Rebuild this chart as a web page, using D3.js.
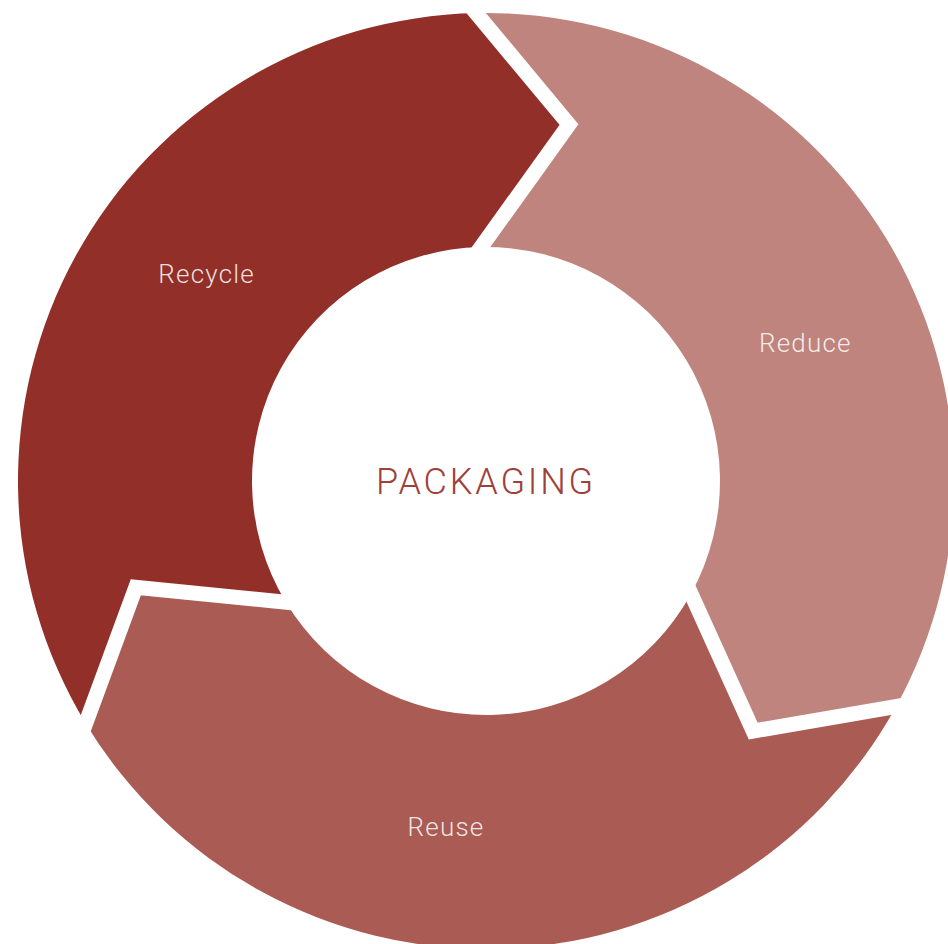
<!DOCTYPE html>
<html>
<head>
<meta charset="utf-8">
<script src="https://cdn.jsdelivr.net/npm/d3@7"></script>
<style>
  html, body { margin: 0; padding: 0; background: #fff; overflow: hidden; }
</style>
</head>
<body>
<div id="chart"></div>
<script>
// cycle data
const labels = ["Reduce", "Reuse", "Recycle"];
const values = [1, 1, 1];
const colors = ["#bf847d", "#a95b54", "#922f29"];
const centerLabel = "PACKAGING";

const width = 948;
const height = 944;
const cx = 486;
const cy = 481;
const outerR = 468;
const innerR = 234;
const tipR = 366;
const gap = 15;
const rad = (deg) => (deg * Math.PI) / 180;
const startAngle = rad(-1.2);
const tipAngle = rad(14.3);
const labelR = 348;
const labelShift = rad(7.8);

const svg = d3
  .select("#chart")
  .append("svg")
  .attr("width", width)
  .attr("height", height);

const pie = d3
  .pie()
  .sort(null)
  .startAngle(startAngle)
  .endAngle(startAngle + 2 * Math.PI);

const arcs = pie(values);

// angle 0 at twelve o'clock, clockwise
const pt = (a, r) => [cx + r * Math.sin(a), cy - r * Math.cos(a)];

function segmentPath(d) {
  const p = d3.path();
  p.moveTo(...pt(d.startAngle, outerR));
  p.arc(cx, cy, outerR, d.startAngle - Math.PI / 2, d.endAngle - Math.PI / 2);
  p.lineTo(...pt(d.endAngle + tipAngle, tipR));
  p.lineTo(...pt(d.endAngle, innerR));
  p.arc(cx, cy, innerR, d.endAngle - Math.PI / 2, d.startAngle - Math.PI / 2, true);
  p.lineTo(...pt(d.startAngle + tipAngle, tipR));
  p.closePath();
  return p.toString();
}

svg
  .selectAll("path.segment")
  .data(arcs)
  .enter()
  .append("path")
  .attr("class", "segment")
  .attr("d", segmentPath)
  .attr("fill", (d, i) => colors[i]);

// white chevron gaps between segments
function gapLine(d) {
  const o = pt(d.endAngle, outerR);
  const t = pt(d.endAngle + tipAngle, tipR);
  const n = pt(d.endAngle, innerR);
  const ext = (a, b) => [a[0] + (a[0] - b[0]) * 0.3, a[1] + (a[1] - b[1]) * 0.3];
  return d3.line()([ext(o, t), t, ext(n, t)]);
}

svg
  .selectAll("path.gap")
  .data(arcs)
  .enter()
  .append("path")
  .attr("class", "gap")
  .attr("d", gapLine)
  .attr("fill", "none")
  .attr("stroke", "#fff")
  .attr("stroke-width", gap)
  .attr("stroke-linejoin", "miter");

svg
  .selectAll("text.label")
  .data(arcs)
  .enter()
  .append("text")
  .attr("class", "label")
  .attr("x", (d) => pt((d.startAngle + d.endAngle) / 2 + labelShift, labelR)[0])
  .attr("y", (d) => pt((d.startAngle + d.endAngle) / 2 + labelShift, labelR)[1])
  .attr("dy", "0.35em")
  .attr("text-anchor", "middle")
  .attr("font-family", "Roboto, sans-serif")
  .attr("font-weight", 300)
  .attr("font-size", 26)
  .attr("letter-spacing", 1.2)
  .attr("fill", "#fff")
  .attr("fill-opacity", 0.85)
  .text((d, i) => labels[i]);

svg
  .append("text")
  .attr("x", cx)
  .attr("y", cy)
  .attr("dy", "0.35em")
  .attr("text-anchor", "middle")
  .attr("font-family", "Roboto, sans-serif")
  .attr("font-weight", 300)
  .attr("font-size", 36)
  .attr("letter-spacing", 2.8)
  .attr("fill", "#a0403a")
  .text(centerLabel);
</script>
</body>
</html>
